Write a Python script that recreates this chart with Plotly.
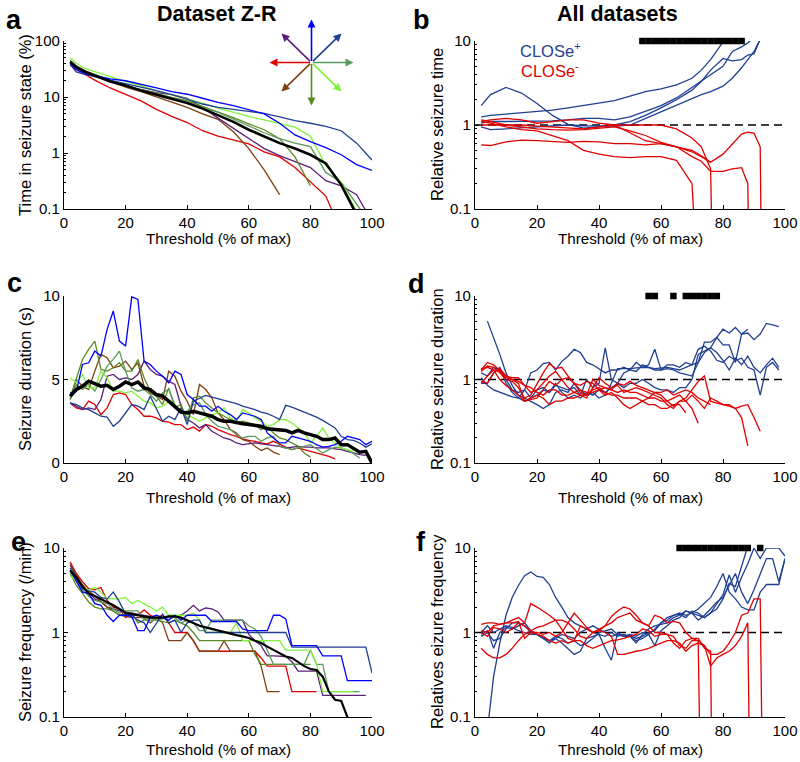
import plotly.graph_objects as go
from plotly.subplots import make_subplots

W, H = 800, 762
FONT = "Liberation Sans, Arial, sans-serif"

BLUE = "#0000ff"
NAVY = "#1f3f92"
PURPLE = "#5c1f78"
BROWN = "#7f3f0f"
RED = "#e00000"
OLIVE = "#5a8a23"
GREEN = "#5a9a5a"
LIME = "#80f23a"
BLACK = "#000000"

# ---------------- panel a : time in seizure state (%) ----------------
A_X = [2, 4, 7, 10, 15, 20, 25, 30, 35, 40, 45, 50, 55, 60, 65, 70, 75, 80, 85, 90, 95, 100]
A_BLUE = [40, 31, 26, 24, 21, 19.5, 17, 14.5, 12.5, 11.2, 9.5, 8, 7, 6.0, 5.0, 3.4, 2.1, 1.6, 1.25, 0.93, 0.62, 0.49]
A_NAVY = [38, 28, 25, 23, 20, 17, 15, 13, 11, 9, 7.5, 6.5, 6.0, 5.5, 5.1, 4.4, 3.8, 3.4, 3.0, 2.5, 1.5, 0.75]
A_LIME = [50, 40, 32, 28, 23, 19, 16, 13, 11, 9.5, 7.8, 6.3, 5.3, 4.5, 3.9, 3.4, 2.9, 2.0, 0.6, 0.3, 0.09]
A_PURPLE = [45, 36, 29, 25, 19.5, 16, 13.5, 12, 11, 9.5, 6.5, 4.2, 2.8, 1.8, 1.2, 0.9, 0.7, 0.55, 0.32, 0.26, 0.18, 0.06]
A_BROWN = [40, 33, 27, 24, 19, 15, 12.5, 10, 8, 6.5, 5.0, 4.0, 2.4, 1.2, 0.5, 0.18]
A_RED = [38, 31, 25, 20, 14.5, 11, 8.5, 6, 4.5, 3.5, 2.5, 2.0, 1.7, 1.45, 1.05, 0.85, 0.55, 0.3, 0.17, 0.04]
A_OLIVE = [45, 35, 29, 25, 20, 16, 13.5, 11.5, 9.8, 8.5, 6.8, 5.5, 4.3, 3.3, 2.6, 1.8, 0.85, 0.26]
A_GREEN = [43, 35, 28, 24, 19, 16, 13, 11, 9.3, 7.8, 6.5, 5.3, 4.0, 3.0, 2.3, 1.8, 1.5, 1.3, 0.45, 0.3, 0.12, 0.05]
A_MEAN = [42, 34, 28, 24, 19, 16, 13, 11, 9.3, 7.8, 6.2, 4.8, 3.6, 2.6, 2.0, 1.5, 1.2, 0.93, 0.65, 0.27, 0.08]

# ---------------- panel b : relative seizure time ----------------
B_X = [2, 5, 10, 15, 20, 25, 30, 35, 40, 45, 50, 55, 60, 65, 70, 73, 76, 80, 83, 86, 88, 90, 92]
B_POS1 = [1.25, 1.3, 1.35, 1.4, 1.45, 1.5, 1.6, 1.7, 1.8, 1.95, 2.2, 2.5, 2.7, 3.0, 3.6, 4.5, 6.0, 9.5, 14]
B_POS2 = [1.7, 2.3, 2.8, 2.4, 1.8, 1.3, 1.02, 0.92, 0.95, 1.0, 1.1, 1.3, 1.6, 2.0, 2.6, 3.3, 4.5, 6.2, 5.8, 6.0, 6.8, 7.0, 10.5]
B_POS3 = [1.05, 1.1, 1.1, 1.1, 1.1, 1.12, 1.15, 1.2, 1.2, 1.15, 1.25, 1.45, 1.7, 2.1, 2.8, 3.4, 4.0, 5.0, 7.5, 8.5, 9.5, 11]
B_POS4 = [0.95, 0.88, 0.9, 0.92, 0.95, 0.98, 1.0, 0.98, 0.98, 0.97, 1.0, 1.2, 1.45, 1.75, 2.1, 2.3, 2.5, 2.9, 3.6, 4.8, 6.0, 7.5, 10.5]
B_NEG1 = [0.58, 0.57, 0.63, 0.66, 0.65, 0.63, 0.62, 0.64, 0.63, 0.6, 0.6, 0.58, 0.6, 0.55, 0.48, 0.42, 0.36, 0.45, 0.6, 0.78, 0.82, 0.8, 0.55]
B_NEG2 = [1.1, 1.15, 1.2, 1.15, 1.05, 1.1, 1.15, 1.15, 1.05, 1.0, 0.8, 0.65, 0.6, 0.55, 0.42, 0.37, 0.28, 0.28, 0.3, 0.31, 0.2]
B_NEG3 = [1.0, 1.0, 1.0, 1.0, 0.97, 0.95, 0.92, 0.9, 0.95, 1.0, 1.0, 1.0, 1.0, 0.9, 0.7, 0.55, 0.3]
B_NEG4 = [1.1, 1.05, 0.95, 0.88, 0.85, 0.75, 0.65, 0.5, 0.45, 0.42, 0.41, 0.42, 0.42, 0.38, 0.2]
B_NEG5 = [1.15, 1.1, 1.0, 0.95, 0.9, 0.88, 0.87, 0.88, 0.92, 0.95, 0.85, 0.75, 0.62, 0.55, 0.5, 0.43, 0.36]
B_NEG_DROP = [92.5, 88.5, 76.8, 72.0, None]
B_SIG = [54, 56, 58, 60, 62, 64, 66, 68, 70, 72, 74, 76, 78, 80, 82, 84, 86]

# thresholds used in panels c-f
X2 = list(range(2, 101, 2))

# ---------------- panel c : seizure duration (s) ----------------
C_BLUE = [4.2, 4.3, 5.9, 6.0, 6.7, 6.4, 8.0, 9.1, 7.3, 7.0, 9.95, 9.8, 6.1, 5.9, 5.5, 5.2, 4.8, 5.5, 5.3, 4.1,
          3.8, 3.4, 3.4, 3.1, 3.4, 3.1, 2.9, 2.6, 3.0, 2.9, 2.8, 2.6, 1.8, 1.5, 1.2, 1.2, 1.6, 1.5, 1.4, 1.3,
          1.1, 0.95, 1.0, 1.1, 1.3, 1.6, 1.5, 1.4, 1.1, 1.3]
C_NAVY = [3.6, 3.5, 3.3, 3.2, 3.0, 2.8, 2.75, 2.2, 2.5, 3.0, 3.5, 3.4, 3.2, 4.0, 3.2, 2.5, 2.8, 2.6, 3.3, 2.3,
          3.7, 3.9, 4.05, 3.95, 3.85, 3.75, 3.65, 3.55, 3.4, 3.3, 3.2, 3.05, 2.95, 2.8, 2.6, 3.45, 3.35, 3.2, 3.05, 2.9,
          2.75, 2.55, 2.35, 2.1, 1.6, 1.4, 1.35, 1.2, 0.95, 1.15]
C_OLIVE = [3.9, 5.0, 6.2, 6.8, 7.3, 5.6, 5.5, 5.7, 6.0, 5.5, 5.5, 6.2, 5.1, 4.3, 4.0, 3.5, 4.5, 3.3, 3.5, 2.5,
           3.9, 4.0, 3.6, 3.3, 3.0, 2.8, 2.6, 2.4, 2.5, 2.4, 2.3, 2.0, 2.2, 1.8, 1.5, 1.4, 1.2, 1.0, 0.6, 0.35]
C_GREEN = [3.8, 4.7, 4.4, 4.7, 4.3, 5.0, 5.8, 6.2, 6.7, 5.5, 4.5, 4.3, 4.4, 4.1, 3.7, 4.2, 4.4, 3.5, 3.0, 3.1,
           3.5, 3.6, 2.9, 2.5, 2.2, 2.1, 2.0, 1.7, 1.5, 1.6, 1.6, 1.3, 1.5, 1.6, 1.0, 0.9, 0.8, 0.9, 1.0, 1.1,
           0.85, 0.6, 0.8, 0.95, 0.9, 0.8, 0.55, 0.3]
C_LIME = [5.1, 4.8, 5.3, 4.5, 4.5, 5.5, 5.1, 4.3, 4.3, 4.2, 4.3, 4.0, 3.7, 3.6, 3.3, 3.4, 3.7, 3.5, 3.0, 2.9,
          2.7, 2.5, 2.7, 2.9, 3.0, 3.3, 2.7, 2.5, 3.2, 3.0, 2.7, 2.5, 2.2, 2.3, 2.6, 2.6, 2.4, 2.1, 1.8, 1.2,
          1.6, 2.1, 1.5, 1.2, 0.9, 0.8, 0.7]
C_BROWN = [3.8, 5.0, 4.6, 4.4, 5.5, 6.5, 6.3, 5.7, 5.8, 6.1, 5.6, 6.0, 4.6, 4.2, 4.0, 3.8, 5.5, 5.2, 4.3, 3.7,
           2.9, 4.7, 4.4, 3.9, 3.0, 2.6, 2.0, 1.8, 1.4, 1.3, 1.0, 0.75, 0.9, 0.65, 0.5]
C_PURPLE = [3.6, 3.4, 3.2, 3.3, 3.2, 3.8, 5.2, 5.3, 5.0, 5.1, 5.0, 5.3, 6.1, 5.6, 5.3, 5.2, 4.9, 4.7, 3.4, 2.6,
            2.4, 2.1, 2.3, 1.9, 1.7, 1.5, 1.4, 1.2, 1.1, 1.15, 1.2, 1.15, 1.1, 1.05, 1.0, 0.9, 0.95, 1.0, 0.95, 0.95,
            0.9, 0.9, 0.9, 0.85, 0.8, 0.7, 0.6, 0.5, 0.45]
C_RED = [3.6, 3.3, 3.2, 3.7, 3.5, 2.9, 3.3, 4.1, 4.2, 4.1, 3.5, 3.2, 2.8, 2.8, 2.7, 2.5, 2.45, 2.3, 2.3, 2.0,
         2.15, 1.9, 2.3, 2.2, 2.0, 1.85, 1.7, 1.6, 1.45, 1.35, 1.3, 1.2, 1.15, 1.3, 1.1, 0.95, 0.8, 0.9, 0.8, 0.7,
         0.6, 0.5, 0.4, 0.25]
C_MEAN = [4.0, 4.4, 4.6, 4.9, 4.75, 4.6, 4.65, 4.4, 4.6, 4.85, 4.7, 4.85, 4.5, 4.4, 4.1, 4.0, 3.7, 3.4, 3.05, 3.0,
          3.1, 3.0, 2.9, 2.8, 2.6, 2.5, 2.5, 2.4, 2.35, 2.3, 2.25, 2.2, 2.05, 2.0, 2.0, 1.95, 1.8, 1.95, 1.8, 1.7,
          1.6, 1.4, 1.4, 1.5, 1.1, 1.1, 0.85, 0.65, 0.7, 0.0]

# ---------------- panel d : relative seizure duration ----------------
D_POS1 = [None, 5.0, 3.2, 2.0, 1.2, 0.85, 0.65, 0.6, 0.55, 0.5, 0.45, 0.5, 0.7, 0.75, 0.7, 0.9, 0.75, 0.65, 0.7, 0.6,
          0.65, 0.9, 1.35, 1.35, 1.35, 1.38, 1.4, 1.4, 1.35, 1.38, 1.4, 1.35, 1.3, 1.4, 1.5, 2.3, 2.5, 2.2, 1.7, 1.6,
          1.9, 1.7, 1.8, 1.4, 1.3, 0.65, 1.4, 1.6, 1.3]
D_POS2 = [1.05, 0.85, 0.75, 0.7, 0.65, 0.62, 0.6, 0.75, 1.2, 1.3, 1.55, 1.6, 1.3, 1.65, 1.9, 2.3, 2.1, 1.6, 1.5, 1.35,
          1.2, 1.3, 1.3, 1.4, 1.3, 1.6, 1.4, 1.5, 2.3, 1.3, 1.5, 1.5, 1.4, 1.6, 1.5, 1.6, 2.1, 2.4, 2.1, 1.7,
          1.3, 1.8, 1.5, 1.9, 1.4, 1.2, 1.5, 1.8, 1.4]
D_POS3 = [1.2, 1.1, 1.4, 1.3, 1.0, 0.75, 0.7, 0.75, 0.6, 0.65, 0.75, 0.7, 0.85, 0.8, 0.75, 0.8, 0.65, 1.0, 0.8, 0.9,
          2.4, 1.0, 0.9, 1.2, 1.3, 1.25, 1.5, 1.4, 1.3, 1.3, 1.35, 1.3, 1.2, 1.15, 1.1, 1.6, 2.8, 2.8, 3.2, 2.6,
          2.6, 1.6, 3.5, 3.6, 3.0, 3.5, 4.7, 4.5, 4.3]
D_POS4 = [0.9, 0.9, 1.2, 1.4, 0.9, 0.7, 0.6, 0.55, 0.6, 0.75, 0.8, 0.7, 0.9, 0.7, 0.6, 0.65, 0.6, 0.7, 0.65, 0.75,
          0.7, 0.8, 0.9, 0.8, 0.9, 0.9, 1.0, 0.9, 0.8, 0.75, 0.75, 0.7, 0.8, 0.8, 1.0, 2.0, 2.2, 2.4, 3.2, 4.0,
          3.6, 4.2, 3.5, 4.0]
D_NEG1 = [1.3, 1.6, 1.5, 1.3, 1.1, 1.05, 1.05, 0.85, 0.8, 0.7, 0.65, 0.75, 0.75, 0.65, 0.65, 0.7, 0.75, 0.7, 0.7, 0.75,
          0.8, 0.75, 0.7, 0.75, 0.7, 0.7, 0.65, 0.6, 0.6, 0.55, 0.55, 0.6, 0.65, 0.55, 0.45, 0.3]
D_NEG2 = [0.95, 0.9, 1.2, 1.35, 1.1, 1.0, 0.9, 0.55, 0.6, 0.65, 0.6, 0.5, 0.55, 0.55, 0.6, 0.6, 0.65, 0.6, 0.8, 1.05,
          0.9, 0.8, 0.85, 0.7, 0.75, 0.8, 0.75, 0.7, 0.65, 0.6, 0.5, 0.45, 0.55, 0.6, 0.75, 0.95, 1.1, 0.55, 0.52, 0.5,
          0.48, 0.45, 0.35, 0.16]
D_NEG3 = [1.35, 1.4, 1.3, 1.0, 0.85, 0.75, 0.65, 0.55, 0.58, 0.6, 0.75, 0.95, 0.85, 1.0, 0.8, 0.7, 0.65, 0.65, 1.0, 0.85,
          0.8, 0.75, 0.9, 0.85, 0.95, 0.85, 0.8, 0.75, 0.7, 0.65, 0.55, 0.48, 0.55, 0.55, 0.65, 0.55, 0.45, 0.6, 0.55, 0.5,
          0.5, 0.45, 0.48, 0.5, 0.35, 0.24]
D_NEG4 = [0.9, 1.1, 1.3, 1.25, 1.05, 1.0, 0.95, 0.85, 0.7, 0.75, 0.9, 1.1, 1.25, 1.0, 1.05, 0.9, 0.85, 0.95, 0.9, 0.75,
          0.65, 0.7, 0.6, 0.5, 0.45, 0.5, 0.55, 0.6, 0.7, 0.7, 0.75, 0.65, 0.7, 0.75, 0.7, 0.6, 0.55, 0.5]
D_NEG5 = [1.25, 1.45, 1.4, 1.2, 1.0, 0.95, 0.8, 0.6, 0.65, 0.9, 1.2, 1.55, 1.35, 1.4, 1.1, 0.9, 0.7, 0.65, 0.75, 0.8,
          0.7, 0.65, 0.65, 0.6, 0.6, 0.6, 0.55, 0.5, 0.5, 0.45, 0.45, 0.5, 0.5, 0.4]
D_SIG = [56, 58, 64, 68, 70, 72, 74, 76, 78]

# ---------------- panel e : seizure frequency (/min) ----------------
E_BLUE = [5.5, 4.0, 3.0, 2.9, 2.2, 2.1, 1.6, 1.35, 1.6, 1.6, 1.55, 1.05, 1.05, 1.5, 1.6, 1.5, 1.4, 1.6, 1.4, 1.6,
          1.6, 1.6, 1.6, 1.35, 1.35, 1.35, 1.35, 1.35, 1.1, 1.05, 1.05, 1.05, 1.05, 1.6, 1.6, 1.45, 0.7, 0.7, 0.7, 0.7,
          0.7, 0.53, 0.53, 0.53, 0.53, 0.27, 0.27, 0.27, 0.27, 0.27]
E_NAVY = [5.8, 4.3, 3.3, 3.1, 3.0, 2.6, 2.5, 3.0, 2.3, 1.65, 1.6, 1.4, 1.3, 1.0, 1.3, 1.65, 1.3, 1.4, 1.0, 1.3,
          1.4, 1.4, 1.0, 1.0, 1.0, 1.0, 1.0, 1.0, 1.0, 1.0, 1.0, 1.0, 1.0, 1.0, 1.0, 1.0, 0.67, 0.67, 0.67, 0.67,
          0.67, 0.67, 0.67, 0.67, 0.67, 0.67, 0.67, 0.67, 0.67, 0.33]
E_PURPLE = [6.2, 4.6, 3.5, 3.0, 2.5, 2.3, 2.0, 1.9, 1.8, 1.75, 1.7, 1.65, 1.6, 1.55, 1.5, 1.5, 1.5, 1.55, 1.6, 1.8,
            2.1, 1.8, 1.95, 1.9, 1.75, 1.4, 1.4, 1.4, 1.4, 0.95, 0.8, 0.7, 0.53, 0.53, 0.53, 0.52, 0.45, 0.35, 0.35, 0.35,
            0.35, 0.18, 0.18, 0.18, 0.18, 0.18, 0.18, 0.18, 0.18]
E_RED = [6.8, 5.0, 4.0, 3.3, 3.2, 3.4, 2.4, 2.0, 1.9, 1.5, 1.7, 1.6, 1.85, 1.6, 1.5, 1.6, 1.3, 1.0, 1.0, 1.0,
         0.8, 0.6, 0.6, 0.6, 0.6, 0.6, 0.6, 0.6, 0.6, 0.6, 0.6, 0.5, 0.4, 0.4, 0.4, 0.4, 0.2, 0.2, 0.2, 0.2, 0.2]
E_BROWN = [6.5, 4.8, 3.7, 3.1, 2.7, 2.3, 2.0, 1.8, 1.6, 1.55, 1.5, 1.5, 1.5, 1.3, 1.5, 1.3, 0.8, 0.8, 0.8, 1.0,
           0.8, 0.6, 0.6, 0.6, 0.6, 0.8, 0.6, 0.6, 0.6, 0.6, 0.6, 0.4, 0.2, 0.2, 0.2]
E_LIME = [4.7, 4.0, 3.5, 3.2, 3.4, 3.0, 2.5, 2.5, 2.5, 2.6, 2.2, 2.4, 2.2, 2.0, 1.8, 2.0, 1.6, 1.6, 1.6, 1.6,
          1.7, 1.4, 1.0, 1.0, 1.0, 1.0, 1.0, 1.3, 0.8, 0.8, 0.8, 0.8, 0.8, 0.8, 0.8, 0.62, 0.62, 0.62, 0.62, 0.62,
          0.42, 0.2, 0.2, 0.2, 0.2, 0.2, 0.2]
E_GREEN = [5.3, 4.0, 3.2, 2.7, 2.4, 2.3, 2.2, 1.9, 1.7, 1.8, 1.8, 1.8, 1.4, 1.4, 1.4, 1.45, 1.5, 1.5, 1.3, 1.4,
           1.3, 1.05, 1.05, 1.4, 1.4, 1.4, 1.4, 1.4, 1.4, 1.2, 1.1, 0.9, 0.6, 0.42, 0.42, 0.42, 0.42, 0.42, 0.42, 0.62,
           0.42, 0.42, 0.2, 0.2, 0.2, 0.2, 0.2, 0.2]
E_OLIVE = [5.0, 3.6, 2.9, 2.3, 2.0, 1.9, 1.9, 1.8, 1.6, 1.65, 1.7, 1.3, 1.4, 1.5, 1.4, 1.35, 1.3, 1.4, 1.3, 1.2,
           1.0, 0.8, 0.8, 0.8, 0.8, 0.8, 0.8, 0.8, 0.8, 0.8, 0.55, 0.42, 0.42, 0.42, 0.42, 0.42, 0.42, 0.42, 0.42, 0.42]
E_MEAN = [5.4, 4.5, 3.5, 2.9, 2.7, 2.5, 2.3, 2.1, 1.9, 1.7, 1.65, 1.6, 1.55, 1.5, 1.5, 1.5, 1.55, 1.55, 1.5, 1.4,
          1.3, 1.2, 1.15, 1.1, 1.05, 1.0, 0.97, 0.93, 0.9, 0.86, 0.8, 0.75, 0.68, 0.62, 0.57, 0.52, 0.5, 0.45, 0.4, 0.37,
          0.36, 0.3, 0.2, 0.16, 0.155, 0.1, 0.07]

# ---------------- panel f : relative seizure frequency ----------------
F_POS1 = [None, 0.07, 0.3, 0.75, 1.6, 2.6, 3.6, 4.7, 5.2, 4.6, 4.5, 3.7, 2.6, 2.0, 1.5, 1.3, 1.2, 1.1, 1.2, 1.1,
          1.0, 0.9, 0.95, 0.9, 0.92, 0.85, 0.9, 1.0, 1.05, 1.3, 1.5, 1.6, 1.7, 1.6, 1.7, 1.9, 2.2, 2.6, 3.5, 5.0,
          3.0, 2.5, 2.0, 1.85, 1.85, 3.0, 3.7, 3.7, 3.7, 7.5]
F_POS2 = [0.95, 1.05, 0.65, 1.0, 1.15, 1.1, 1.2, 1.3, 1.05, 0.95, 0.85, 0.75, 0.85, 0.75, 0.65, 0.55, 0.6, 0.85, 0.9, 0.95,
          0.65, 0.47, 1.0, 0.9, 0.95, 0.9, 1.0, 0.95, 0.7, 1.05, 1.2, 1.4, 1.5, 1.8, 1.7, 1.6, 1.5, 1.7, 1.9, 2.5,
          3.8, 3.5, 6.0, 10.5]
F_POS3 = [1.0, 1.2, 1.0, 1.1, 1.2, 1.15, 1.05, 1.0, 0.95, 0.95, 0.85, 0.8, 0.9, 0.85, 0.75, 0.8, 0.7, 0.75, 0.85, 1.0,
          1.05, 1.1, 0.95, 0.9, 0.9, 0.8, 0.85, 0.95, 1.1, 1.3, 1.4, 1.6, 1.65, 1.5, 1.8, 1.7, 1.5, 1.7, 2.2, 2.8,
          4.8, 3.0, 4.5, 6.5, 10.0, 7.5, 10.0, 10.0, 10.0, 8.0]
F_POS4 = [0.9, 1.0, 0.8, 0.85, 1.1, 1.3, 1.3, 1.2, 1.0, 0.95, 0.9, 0.8, 0.85, 0.95, 0.9, 0.85, 1.0, 1.1, 1.0, 0.95,
          0.9, 1.0, 0.9, 0.95, 0.9, 0.75, 0.95, 1.1, 1.2, 1.25, 1.3, 1.5, 1.6, 1.8, 1.7, 1.4, 1.6, 1.9, 2.3, 2.6,
          3.6, 5.0, 3.0, 2.2, 3.2, 5.0, 7.5, 7.5, 4.0, 7.5]
F_NEG1 = [1.25, 1.3, 1.3, 1.25, 1.3, 1.4, 1.5, 1.3, 2.2, 2.0, 1.8, 1.6, 1.4, 1.1, 0.85, 0.8, 1.2, 1.1, 1.0, 1.05,
          1.2, 1.3, 1.5, 1.6, 1.7, 1.4, 1.3, 1.2, 1.0, 1.0, 0.95, 0.75, 0.65, 0.8, 0.85, 0.8]
F_NEG2 = [1.05, 1.0, 1.2, 1.25, 1.3, 1.3, 1.35, 0.85, 1.0, 1.0, 0.95, 1.0, 0.9, 1.0, 1.3, 1.7, 1.4, 1.15, 1.0, 1.1,
          1.2, 1.55, 1.8, 2.0, 1.9, 1.6, 1.3, 1.2, 1.6, 1.5, 1.3, 1.35, 1.3, 1.0, 0.85, 0.85, 0.65, 0.6]
F_NEG3 = [0.65, 0.55, 0.5, 0.5, 0.55, 0.65, 0.8, 0.95, 1.05, 1.15, 1.2, 1.3, 1.4, 1.4, 1.3, 1.1, 0.9, 0.85, 1.0, 1.05,
          1.0, 0.9, 0.55, 0.55, 0.58, 0.6, 0.62, 0.65, 0.7, 0.75, 0.8, 0.8, 0.75, 0.6, 0.7, 0.75, 0.7, 0.4, 0.5, 0.55,
          0.6, 0.7, 0.9, 1.3]
F_NEG4 = [1.0, 0.9, 1.15, 1.1, 1.0, 1.1, 1.3, 1.2, 1.05, 0.95, 0.9, 0.8, 0.75, 0.8, 0.75, 0.8, 0.8, 0.7, 0.65, 0.7,
          0.75, 0.8, 0.82, 0.85, 0.9, 0.95, 1.1, 1.05, 0.9, 0.95, 0.95, 0.9, 0.7, 0.65, 0.8, 0.8, 0.7, 0.55, 0.55, 0.6,
          0.75, 1.0, 1.6, 1.7, 2.5, 2.5]
F_NEG_DROP = [72.8, 76.5, 88.7, 92.8]
F_SIG = [66, 68, 70, 72, 74, 76, 78, 80, 82, 84, 86, 88, 92]

# compass in panel a: (dx, dy) in pixels from the centre, colour
COMPASS = [(0, -43, BLUE), (30, -29, NAVY), (42, 0, GREEN), (30, 29, LIME),
           (0, 43, OLIVE), (-30, 29, BROWN), (-42, 0, RED), (-30, -29, PURPLE)]
COMPASS_CENTER = (311.5, 62.5)


def px(x):
    return x / W


def py(y):
    return 1 - y / H


def trace(x, y, color, width=1.3, dash=None):
    return go.Scatter(x=x[:len(y)], y=y, mode="lines", line=dict(color=color, width=width, dash=dash),
                      showlegend=False, hoverinfo="skip")


def drop_trace(x, y, drop, color):
    xs, ys = list(x[:len(y)]), list(y)
    if drop is not None:
        xs.append(drop)
        ys.append(0.01)
    return trace(xs, ys, color)


def sig_trace(xs):
    return go.Scatter(x=xs, y=[10] * len(xs), mode="markers", cliponaxis=False,
                      marker=dict(symbol="square", size=6.5, color=BLACK, line=dict(width=0)),
                      showlegend=False, hoverinfo="skip")


def unity_trace():
    return trace([0, 100], [1, 1], BLACK, width=1.3, dash="8px,5px")


fig = make_subplots(rows=3, cols=2)

# panel a
for ys, col in [(A_RED, RED), (A_BROWN, BROWN), (A_PURPLE, PURPLE), (A_OLIVE, OLIVE), (A_GREEN, GREEN),
                (A_LIME, LIME), (A_NAVY, NAVY), (A_BLUE, BLUE)]:
    fig.add_trace(trace(A_X, ys, col), row=1, col=1)
fig.add_trace(trace(A_X, A_MEAN, BLACK, width=2.6), row=1, col=1)

# panel b
fig.add_trace(unity_trace(), row=1, col=2)
for ys in [B_POS1, B_POS2, B_POS3, B_POS4]:
    fig.add_trace(trace(B_X, ys, NAVY), row=1, col=2)
for ys, drop in zip([B_NEG1, B_NEG2, B_NEG3, B_NEG4, B_NEG5], B_NEG_DROP):
    fig.add_trace(drop_trace(B_X, ys, drop, RED), row=1, col=2)
fig.add_trace(sig_trace(B_SIG), row=1, col=2)

# panel c
for ys, col in [(C_RED, RED), (C_PURPLE, PURPLE), (C_BROWN, BROWN), (C_OLIVE, OLIVE), (C_GREEN, GREEN),
                (C_LIME, LIME), (C_NAVY, NAVY), (C_BLUE, BLUE)]:
    fig.add_trace(trace(X2, ys, col), row=2, col=1)
fig.add_trace(trace(X2, C_MEAN, BLACK, width=3.5), row=2, col=1)

# panel d
fig.add_trace(unity_trace(), row=2, col=2)
for ys in [D_POS1, D_POS2, D_POS3, D_POS4]:
    fig.add_trace(trace(X2, ys, NAVY), row=2, col=2)
for ys in [D_NEG1, D_NEG2, D_NEG3, D_NEG4, D_NEG5]:
    fig.add_trace(trace(X2, ys, RED), row=2, col=2)
fig.add_trace(sig_trace(D_SIG), row=2, col=2)

# panel e
for ys, col in [(E_RED, RED), (E_PURPLE, PURPLE), (E_BROWN, BROWN), (E_OLIVE, OLIVE), (E_GREEN, GREEN),
                (E_LIME, LIME), (E_NAVY, NAVY), (E_BLUE, BLUE)]:
    fig.add_trace(trace(X2, ys, col), row=3, col=1)
fig.add_trace(trace(X2, E_MEAN, BLACK, width=2.2), row=3, col=1)

# panel f
fig.add_trace(unity_trace(), row=3, col=2)
for ys in [F_POS1, F_POS2, F_POS3, F_POS4]:
    fig.add_trace(trace(X2, ys, NAVY), row=3, col=2)
for ys, drop in zip([F_NEG1, F_NEG2, F_NEG3, F_NEG4], F_NEG_DROP):
    fig.add_trace(drop_trace(X2, ys, drop, RED), row=3, col=2)
fig.add_trace(sig_trace(F_SIG), row=3, col=2)

# --- axes ---
LEFT = [px(64), px(372)]
RIGHT = [px(475), px(785)]
ROWS = [[py(209), py(41)], [py(463), py(296)], [py(717), py(548)]]

minor_vals = [m * 10 ** e for e in (-1, 0, 1) for m in range(2, 10)]
axis_common = dict(showline=True, linecolor=BLACK, linewidth=1.2, ticks="inside", ticklen=4,
                   tickcolor=BLACK, showgrid=False, zeroline=False, mirror=False, automargin=False,
                   tickfont=dict(family=FONT, size=15, color=BLACK))

for i in range(6):
    r, c = divmod(i, 2)
    sfx = "" if i == 0 else str(i + 1)
    fig.layout["xaxis" + sfx].update(domain=LEFT if c == 0 else RIGHT, range=[0, 100],
                                     tickvals=[0, 20, 40, 60, 80, 100], **axis_common)
    yax = fig.layout["yaxis" + sfx]
    yax.update(domain=ROWS[r], **axis_common)
    if i == 2:
        yax.update(range=[0, 10], tickvals=[0, 5, 10])
    else:
        top = 2 if i == 0 else 1
        vals = [0.1, 1, 10, 100][:top + 2]
        yax.update(type="log", range=[-1, top], tickvals=vals, ticktext=["0.1", "1", "10", "100"][:top + 2],
                   minor=dict(ticks="inside", ticklen=2, tickcolor=BLACK, showgrid=False,
                              tickvals=[v for v in minor_vals if v < 10 ** top]))

# --- text ---
ann = []


def text(x, y, s, size=15.2, bold=False, angle=0, color=BLACK):
    ann.append(dict(x=px(x), y=py(y), xref="paper", yref="paper", text=f"<b>{s}</b>" if bold else s,
                    showarrow=False, textangle=angle, xanchor="center", yanchor="middle",
                    font=dict(family=FONT, size=size, color=color)))


text(217, 14, "Dataset Z-R", size=21.5, bold=True)
text(617, 14, "All datasets", size=21.5, bold=True)
for letter, x, y in [("a", 14, 20), ("b", 421, 20), ("c", 14, 283), ("d", 416, 284), ("e", 18, 542), ("f", 421, 542)]:
    text(x, y, letter, size=27, bold=True)
for y in (238.5, 498, 749.5):
    text(218, y, "Threshold (% of max)")
    text(630, y, "Threshold (% of max)")
text(25, 125, "Time in seizure state (%)", size=16.5, angle=-90)
text(437, 125, "Relative seizure time", size=16.5, angle=-90)
text(25, 379, "Seizure duration (s)", size=16.5, angle=-90)
text(437, 379, "Relative seizure duration", size=16.5, angle=-90)
text(25, 632, "Seizure frequency (/min)", size=16.5, angle=-90)
text(437, 632, "Relatives eizure frequency", size=16.5, angle=-90)
text(550, 50, "CLOSe<sup>+</sup>", size=16.5, color=NAVY)
text(550, 70, "CLOSe<sup>-</sup>", size=16.5, color=RED)

cx, cy = COMPASS_CENTER
for dx, dy, col in COMPASS:
    ann.append(dict(x=px(cx + dx), y=py(cy + dy), xref="paper", yref="paper", text="", showarrow=True,
                    ax=-dx, ay=-dy, arrowhead=2, arrowsize=1, arrowwidth=1.6, arrowcolor=col, standoff=0))

fig.update_layout(width=W, height=H, margin=dict(l=0, r=0, t=0, b=0, autoexpand=False),
                  plot_bgcolor="white", paper_bgcolor="white", annotations=ann,
                  font=dict(family=FONT, color=BLACK), showlegend=False)

fig.write_html("out.html", config={"displayModeBar": False},
               post_script="document.body.style.margin='0px';")
